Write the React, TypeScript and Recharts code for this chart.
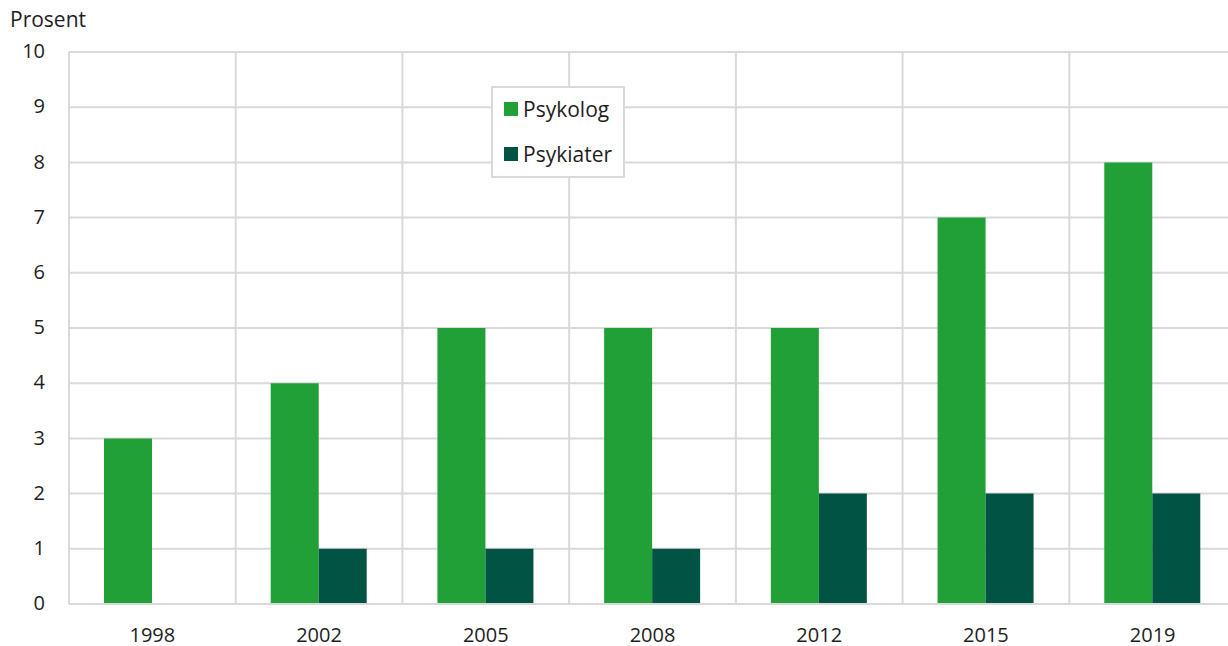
import React from 'react';
import { BarChart, Bar, XAxis, YAxis, CartesianGrid } from 'recharts';

const years = ['1998', '2002', '2005', '2008', '2012', '2015', '2019'];
const psykolog = [3, 4, 5, 5, 5, 7, 8];
const psykiater = [null, 1, 1, 1, 2, 2, 2];
const yTicks = [0, 1, 2, 3, 4, 5, 6, 7, 8, 9, 10];
const seriesNames = ['Psykolog', 'Psykiater'];

const GREEN = '#21a038';
const DARK = '#015443';
const GRID = '#d9d9d9';
const TEXT = '#1e1e1e';
const seriesColors = [GREEN, DARK];

const data = years.map((y, i) => ({ year: y, Psykolog: psykolog[i], Psykiater: psykiater[i] }));

const LegendBox = () => (
  <div
    style={{
      position: 'absolute',
      left: 491,
      top: 86,
      background: '#fff',
      border: `2px solid ${GRID}`,
      width: 134,
      height: 92,
      boxSizing: 'border-box',
      fontSize: 21,
      color: TEXT,
    }}
  >
    {seriesNames.map((name, i) => (
      <div
        key={name}
        style={{ position: 'absolute', left: 11, top: 21 + i * 45 - 14, height: 28, display: 'flex', alignItems: 'center', whiteSpace: 'nowrap' }}
      >
        <span style={{ width: 14, height: 14, background: seriesColors[i], display: 'inline-block', marginRight: 5 }} />
        <span>{name}</span>
      </div>
    ))}
  </div>
);

export default function App() {
  return (
    <div
      style={{
        position: 'fixed',
        left: 0,
        top: 0,
        width: 1228,
        height: 646,
        overflow: 'hidden',
        background: '#fff',
        fontFamily: '"Open Sans", sans-serif',
      }}
    >
      <BarChart
        width={1240}
        height={646}
        data={data}
        margin={{ top: 52, right: 4, bottom: 0, left: 0 }}
        barGap={0}
        barSize={48}
      >
        <CartesianGrid
          stroke={GRID}
          strokeWidth={2}
          verticalCoordinatesGenerator={({ offset }: any) =>
            years.map((_, i) => offset.left + ((i + 1) * offset.width) / years.length)
          }
        />
        <XAxis
          dataKey="year"
          axisLine={{ stroke: GRID, strokeWidth: 2 }}
          tickLine={false}
          tickSize={0}
          tickMargin={24}
          height={42}
          tick={{ fill: TEXT, fontSize: 20 }}
        />
        <YAxis
          domain={[0, 10]}
          ticks={yTicks}
          axisLine={{ stroke: GRID, strokeWidth: 2 }}
          tickLine={false}
          tickSize={0}
          tickMargin={24}
          width={69}
          tick={{ fill: TEXT, fontSize: 20, dy: -1 }}
          interval={0}
        />
        <Bar dataKey="Psykolog" fill={GREEN} isAnimationActive={false} />
        <Bar dataKey="Psykiater" fill={DARK} isAnimationActive={false} />
      </BarChart>
      <div style={{ position: 'absolute', left: 10, top: 5, fontSize: 21, color: TEXT }}>Prosent</div>
      <LegendBox />
    </div>
  );
}
